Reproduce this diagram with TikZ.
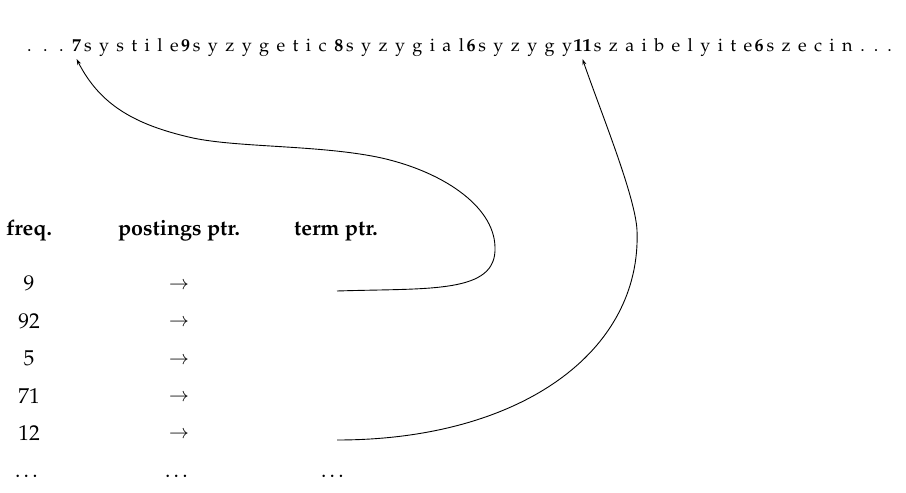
\documentclass[tikz,border=0pt]{standalone}
\usepackage[T1]{fontenc}
\usepackage{mathpazo}
\usetikzlibrary{arrows.meta}
\newlength\gapw
\setlength\gapw{7.4pt}
\makeatletter
\def\spaceout#1{\spaceout@#1\@nil}
\def\spaceout@#1#2\@nil{#1\ifx\relax#2\relax\else\hspace{\gapw}\spaceout@#2\@nil\fi}
\makeatother
\tikzset{
  topw/.style={anchor=base west, inner sep=0pt, font=\fontsize{18}{21}\selectfont},
  topn/.style={topw, font=\fontsize{18}{21}\selectfont\bfseries},
  hdr/.style={anchor=base, inner sep=0pt, font=\fontsize{21.5}{26}\selectfont\bfseries},
  cell/.style={anchor=base, inner sep=0pt, font=\fontsize{21.5}{26}\selectfont},
  arr/.style={anchor=base, inner sep=0pt, font=\fontsize{19}{22}\selectfont},
  conn/.style={line width=0.9pt, -{Stealth[length=6pt,width=4pt]}},
}
\begin{document}
\begin{tikzpicture}[x=1pt,y=-1pt]
\useasboundingbox (0,0) rectangle (906,493);
% top string
\node[topw] (dl) at (27,51) {.\hspace{11.5pt}.\hspace{11.5pt}.};
\node[topn] (n7) at ([xshift=8pt]dl.base east) {7};
\node[topw] (w1) at ([xshift=2.5pt]n7.base east) {\spaceout{systile}};
\node[topn] (n9) at ([xshift=2pt]w1.base east) {9};
\node[topw] (w2) at ([xshift=2.5pt]n9.base east) {\spaceout{syzygetic}};
\node[topn] (n8) at ([xshift=\gapw]w2.base east) {8};
\node[topw] (w3) at ([xshift=2.5pt]n8.base east) {\spaceout{syzygial}};
\node[topn] (n6a) at ([xshift=2pt]w3.base east) {6};
\node[topw] (w4) at ([xshift=2.5pt]n6a.base east) {\spaceout{syzygy}};
\node[topn] (n11) at ([xshift=1pt]w4.base east) {11};
\node[topw] (w5) at ([xshift=2pt]n11.base east) {\spaceout{szaibelyite}};
\node[topn] (n6b) at ([xshift=2pt]w5.base east) {6};
\node[topw] (w6) at ([xshift=2.5pt]n6b.base east) {\spaceout{szecin}};
\node[topw] (dr) at ([xshift=\gapw]w6.base east) {.\hspace{9pt}.\hspace{9pt}.};
% headers
\node[hdr] (hf) at (29,235) {freq.};
\node[hdr] (hp) at (179,235) {postings ptr.};
\node[hdr] (ht) at (336,235) {term ptr.};
% rows
\node[cell] (f1) at (29,290.7) {9};
\node[cell] (f2) at (29,328) {92};
\node[cell] (f3) at (29,365.7) {5};
\node[cell] (f4) at (29,403) {71};
\node[cell] (f5) at (29,440) {12};
\node[cell] (f6) at (28,477) {\ldots};
\node[arr] (p1) at (179,289) {$\rightarrow$};
\node[arr] (p2) at (179,326.5) {$\rightarrow$};
\node[arr] (p3) at (179,364) {$\rightarrow$};
\node[arr] (p4) at (179,401.5) {$\rightarrow$};
\node[arr] (p5) at (179,438.5) {$\rightarrow$};
\node[cell] (p6) at (178,477) {\ldots};
\node[cell] (t6) at (334,477) {\ldots};
% pointer ends
\coordinate (tp1) at (337,291);
\coordinate (tp5) at (337,440);
\coordinate (tip7) at ([yshift=-8pt]n7.base);
\coordinate (tip11) at ([yshift=-8pt]n11.base);
% connectors
\draw[conn] (tp1) .. controls (430,288) and (497,294) .. (495,247)
  .. controls (494,205) and (440,170) .. (377,157)
  .. controls (317,145) and (238,147.5) .. (193,138)
  .. controls (135,125) and (100,105) .. (tip7);
\draw[conn] (tp5) .. controls (520,440) and (642,352) .. (637,230)
  .. controls (635,195) and (600,110) .. (tip11);
\end{tikzpicture}
\end{document}
